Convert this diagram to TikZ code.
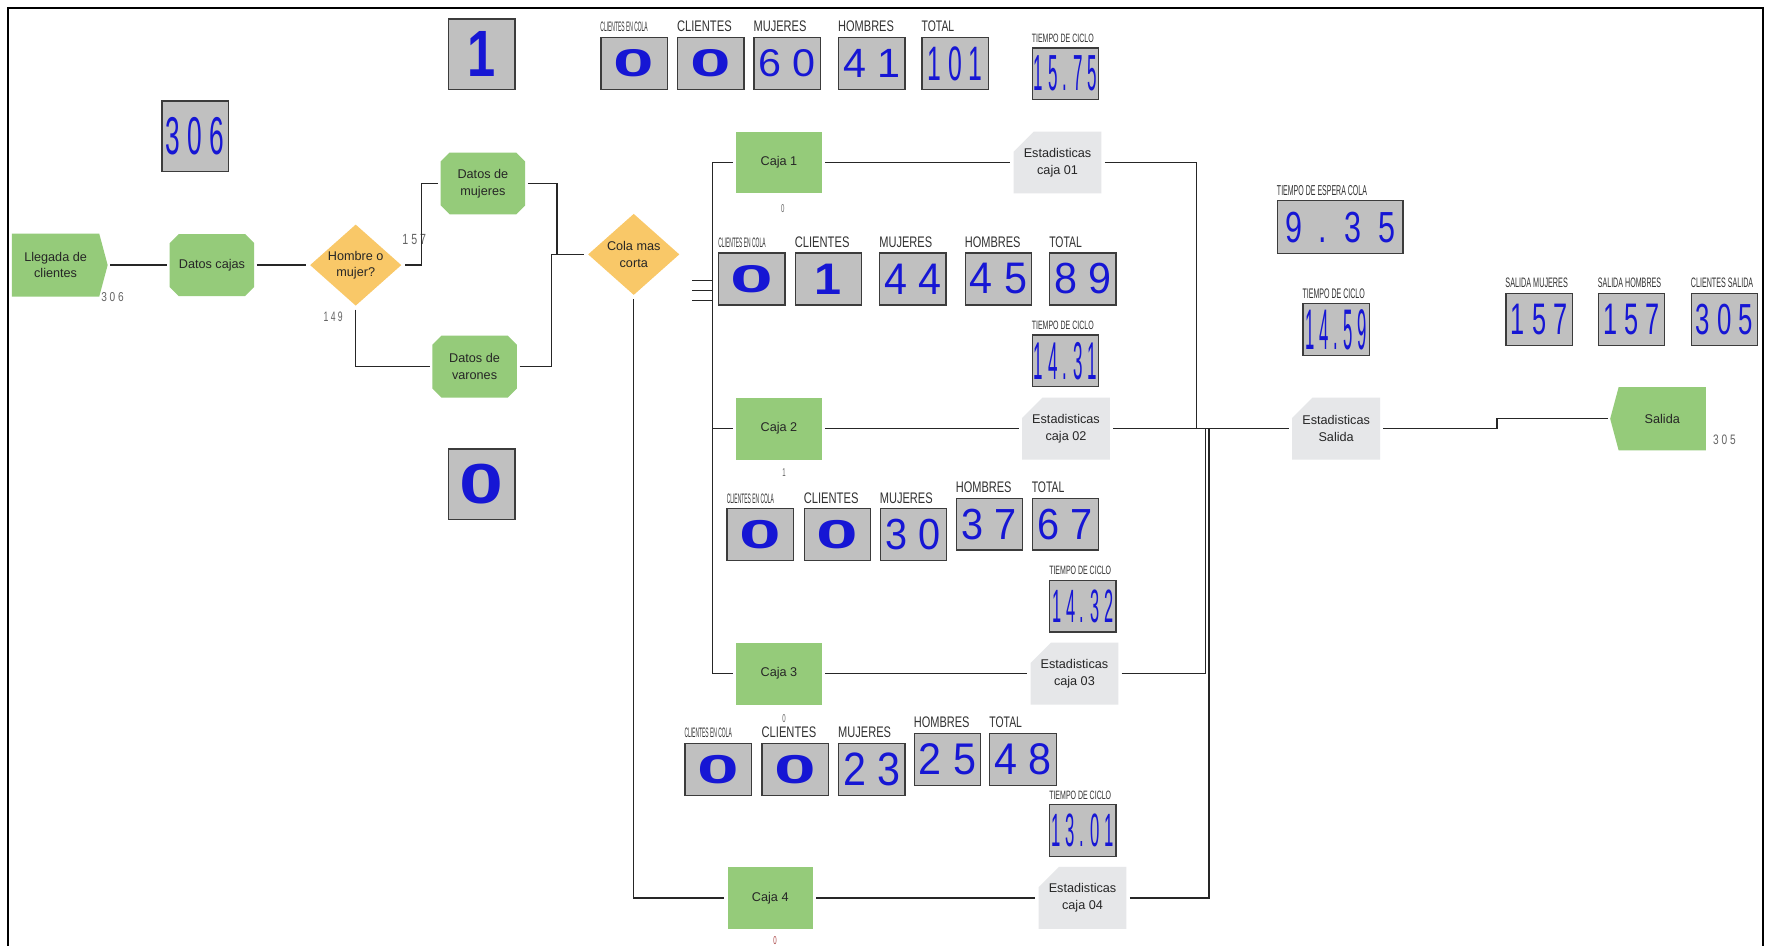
\documentclass[tikz,border=0pt]{standalone}
\usepackage{fontspec}
\setmainfont{Liberation Sans}
\usepackage{graphicx}
\usetikzlibrary{shapes.geometric,shapes.misc,shapes.symbols}

\definecolor{verdeproc}{RGB}{149,203,122}
\definecolor{naranja}{RGB}{249,200,104}
\definecolor{grisest}{RGB}{230,231,233}
\definecolor{grisdisp}{RGB}{192,192,192}
\definecolor{bordedisp}{RGB}{60,60,60}
\definecolor{azuldisp}{RGB}{22,22,212}
\definecolor{textonodo}{RGB}{38,38,38}
\definecolor{textoetq}{RGB}{50,50,50}
\definecolor{grisnum}{RGB}{100,100,100}
\definecolor{rojonum}{RGB}{170,70,70}

\newlength{\px}
\setlength{\px}{0.03cm}
\newcommand{\cifra}[3]{\resizebox{#1\px}{#2\px}{#3}}

\begin{document}
\begin{tikzpicture}[x=0.03cm,y=-0.03cm,
    every node/.style={font=\fontsize{9.6}{12.6}\selectfont, text=textonodo, align=center},
    linea/.style={line width=1.3\px, draw=textonodo},
    proc/.style={chamfered rectangle, chamfered rectangle sep=4\px, fill=verdeproc,
        minimum width=75\px, minimum height=55\px, inner sep=0pt, outer sep=2.5\px},
    caja/.style={rectangle, fill=verdeproc, minimum width=76\px, minimum height=55\px,
        inner sep=0pt, outer sep=3\px},
    decision/.style={diamond, fill=naranja, aspect=1.14, minimum width=83\px,
        minimum height=74\px, inner sep=0pt, outer sep=2.5\px},
    est/.style={chamfered rectangle, chamfered rectangle corners=north west,
        chamfered rectangle sep=9\px, fill=grisest, minimum width=75\px,
        minimum height=55\px, inner sep=0pt, outer sep=3\px},
    extremo/.style={signal, fill=verdeproc, minimum height=56\px, signal pointer angle=150,
        inner sep=0pt, outer sep=2\px},
    disp/.style={rectangle, fill=grisdisp, draw=bordedisp, line width=1.2\px,
        minimum width=59\px, minimum height=46\px, inner sep=0pt, text=azuldisp},
    alto/.style={disp, minimum height=62.5\px},
    hdr/.style={anchor=south west, inner sep=0pt, text=textoetq, yshift=4\px},
    cuenta/.style={inner sep=0pt, text=grisnum}]

\useasboundingbox[fill=white] (0,0) rectangle (1568,840);
\draw[line width=1.6\px] (7,840) -- (7,7) -- (1566,7) -- (1566,840);

% entrada
\node[extremo, signal to=east, minimum width=85\px] (llegada) at (49.4,235.5) {Llegada de\\clientes};
\node[cuenta] (nllegada) at (100,263.5) {\cifra{20}{8}{3 0 6}};
\node[proc] (datos) at (188.3,235.5) {Datos cajas};
\node[decision] (hm) at (316,235.5) {Hombre o\\mujer?};
\node[cuenta] (nmuj) at (368,212.5) {\cifra{21}{9}{1 5 7}};
\node[cuenta] (nvar) at (296,281.5) {\cifra{17}{8.5}{1 4 9}};
\node[proc] (mujeres) at (429,163) {Datos de\\mujeres};
\node[proc] (varones) at (421.6,325.7) {Datos de\\varones};
\node[decision] (cola) at (563,226) {Cola mas\\corta};

\node[alto] (totalgen) at (173.4,121) {\cifra{52}{33}{3 0 6}};
\node[alto] (unoarriba) at (428,48) {\cifra{25}{40}{\bfseries 1}};
\node[alto] (ceroabajo) at (428,430) {\cifra{39}{35}{\bfseries 0}};

% cajas
\node[caja] (caja1) at (692,144.4) {Caja 1};
\node[caja] (caja2) at (692,380.8) {Caja 2};
\node[caja] (caja3) at (692,598.5) {Caja 3};
\node[caja] (caja4) at (684.3,797.7) {Caja 4};
\node[cuenta] (ncaja1) at (695.4,185) {\cifra{3}{7}{0}};
\node[cuenta] (ncaja2) at (696.5,420) {\cifra{3}{7}{1}};
\node[cuenta] (ncaja3) at (696.5,638) {\cifra{3}{7}{0}};
\node[cuenta, text=rojonum] (ncaja4) at (688.5,836) {\cifra{3}{7}{0}};

\node[est] (est1) at (939.5,144.4) {Estadisticas\\caja 01};
\node[est] (est2) at (947,380.8) {Estadisticas\\caja 02};
\node[est] (est3) at (954.5,598.5) {Estadisticas\\caja 03};
\node[est] (est4) at (961.7,797.7) {Estadisticas\\caja 04};
\node[est] (estsal) at (1187,380.8) {Estadisticas\\Salida};
\node[extremo, signal to=west, minimum width=85\px] (salida) at (1476.7,372) {Salida};
\node[cuenta] (nsalida) at (1532,391) {\cifra{20}{8.5}{3 0 5}};

% displays generales
\node[disp] (q0) at (563.3,56.3) {\cifra{36}{24}{\bfseries 0}};
\node[disp] (c0) at (631.4,56.3) {\cifra{36}{24}{\bfseries 0}};
\node[disp] (m0) at (699.3,56.3) {\cifra{51}{24}{6 0}};
\node[disp] (h0) at (774.5,56.3) {\cifra{51}{25}{4 1}};
\node[disp] (t0) at (848.6,56.3) {\cifra{49}{30}{1 0 1}};
\node[disp] (ciclo0) at (946.5,65.5) {\cifra{56}{31}{1 5 . 7 5}};

% displays caja 1
\node[disp] (q1) at (668,247.8) {\cifra{38}{24}{\bfseries 0}};
\node[disp] (c1) at (736,247.8) {\cifra{24}{27}{\bfseries 1}};
\node[disp] (m1) at (811,247.8) {\cifra{51}{27}{4 4}};
\node[disp] (h1) at (887,247.8) {\cifra{51}{27}{4 5}};
\node[disp] (t1) at (962,247.8) {\cifra{51}{27}{8 9}};
\node[disp] (ciclo1) at (946.5,320.5) {\cifra{56}{33}{1 4 . 3 1}};

% displays caja 2
\node[disp] (q2) at (675.5,475) {\cifra{37}{25}{\bfseries 0}};
\node[disp] (c2) at (744,475) {\cifra{37}{25}{\bfseries 0}};
\node[disp] (m2) at (811.5,475) {\cifra{49}{27}{3 0}};
\node[disp] (h2) at (879,465.6) {\cifra{49}{27}{3 7}};
\node[disp] (t2) at (946.5,465.6) {\cifra{49}{27}{6 7}};
\node[disp] (ciclo2) at (962,538.5) {\cifra{54}{29}{1 4 . 3 2}};

% displays caja 3
\node[disp] (q3) at (638,683.5) {\cifra{37}{25}{\bfseries 0}};
\node[disp] (c3) at (706.5,683.5) {\cifra{37}{25}{\bfseries 0}};
\node[disp] (m3) at (774.5,683.5) {\cifra{51}{29}{2 3}};
\node[disp] (h3) at (841.7,674.7) {\cifra{51}{27.5}{2 5}};
\node[disp] (t3) at (908.8,674.7) {\cifra{51}{27.5}{4 8}};
\node[disp] (ciclo3) at (962,737.8) {\cifra{55}{29}{1 3 . 0 1}};

% displays salida
\node[disp, minimum width=111.6\px, minimum height=46.7\px] (espera) at (1190.6,201.7) {\cifra{98}{27}{9\ \ .\ \ 3\ \ 5}};
\node[disp] (ciclosal) at (1187,292.8) {\cifra{55}{35.5}{1 4 . 5 9}};
\node[disp] (smuj) at (1367.3,283.8) {\cifra{50}{27}{1 5 7}};
\node[disp] (shom) at (1449.3,283.8) {\cifra{50}{27}{1 5 7}};
\node[disp] (csal) at (1532,283.8) {\cifra{51}{27}{3 0 5}};

% rotulos
\foreach \r in {0,...,3}{
    \node[hdr] (lq\r) at (q\r.north west) {\cifra{42}{8.5}{CLIENTES EN COLA}};
    \node[hdr] (lc\r) at (c\r.north west) {\cifra{48.5}{9.5}{CLIENTES}};
    \node[hdr] (lm\r) at (m\r.north west) {\cifra{47}{9.5}{MUJERES}};
    \node[hdr] (lh\r) at (h\r.north west) {\cifra{49.5}{9.5}{HOMBRES}};
    \node[hdr] (lt\r) at (t\r.north west) {\cifra{29}{9.5}{TOTAL}};
    \node[hdr] (lciclo\r) at (ciclo\r.north west) {\cifra{55}{7.5}{TIEMPO DE CICLO}};
}
\node[hdr] (lespera) at (espera.north west) {\cifra{80}{8.9}{TIEMPO DE ESPERA COLA}};
\node[hdr] (lciclosal) at (ciclosal.north west) {\cifra{55.4}{8.6}{TIEMPO DE CICLO}};
\node[hdr] (lsmuj) at (smuj.north west) {\cifra{55.4}{8.5}{SALIDA MUJERES}};
\node[hdr] (lshom) at (shom.north west) {\cifra{56.3}{8.5}{SALIDA HOMBRES}};
\node[hdr] (lcsal) at (csal.north west) {\cifra{55.4}{8.5}{CLIENTES SALIDA}};

% conexiones
\coordinate (xh) at (374.6,0);
\coordinate (xv) at (490,0);
\coordinate (xm) at (495,0);
\coordinate (bus) at (633,0);
\coordinate (xa) at (1063,0);
\coordinate (xb) at (1071,0);
\coordinate (xc) at (1074,0);
\coordinate (xd) at (1330,0);

\draw[linea] (llegada.east) -- (datos.west);
\draw[linea] (datos.east) -- (hm.west);
\draw[linea] (hm.east) -| (xh |- mujeres.west) -- (mujeres.west);
\draw[linea] (hm.south) |- (varones.west);
\draw[linea] (mujeres.east) -| (xm |- cola.west);
\draw[linea] (varones.east) -| (xv |- cola.west) -- (cola.west);
\draw[linea] (cola.south) |- (caja4.west);
\draw[linea] (caja1.west) -| (bus |- caja3.west) -- (caja3.west);
\draw[linea] (caja2.west) -- (bus |- caja2.west);
\foreach \i/\yy in {1/249,2/258,3/267}{
    \coordinate (ramal\i) at (615,\yy);
    \draw[linea] (ramal\i) -- (bus |- ramal\i);
}
\foreach \i in {1,...,4}
    \draw[linea] (caja\i.east) -- (est\i.west);
\draw[linea] (est1.east) -| (xa |- estsal.west);
\draw[linea] (est2.east) -- (estsal.west);
\draw[linea] (est3.east) -| (xb |- estsal.west);
\draw[linea] (est4.east) -| (xc |- estsal.west);
\draw[linea] (estsal.east) -| (xd |- salida.west) -- (salida.west);
\end{tikzpicture}
\end{document}
